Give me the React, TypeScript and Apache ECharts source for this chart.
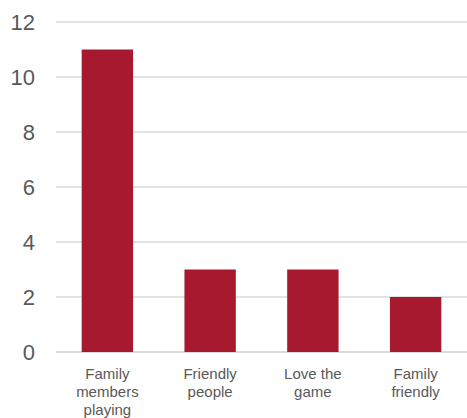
import React, { useEffect, useRef } from "react";
import * as echarts from "echarts";

const categories = ["Family\nmembers\nplaying", "Friendly\npeople", "Love the\ngame", "Family\nfriendly"];
const values = [11, 3, 3, 2];
const yTicks = { min: 0, max: 12, interval: 2 };

export default function App() {
  const ref = useRef<HTMLDivElement>(null);
  useEffect(() => {
    document.body.style.margin = "0";
    const chart = echarts.init(ref.current!, null, { renderer: "svg" });
    chart.setOption({
      animation: false,
      grid: { left: 56, right: 0, top: 22, bottom: 62, containLabel: false },
      xAxis: {
        type: "category",
        data: categories,
        axisLine: { show: true, lineStyle: { color: "#d9d9d9", width: 1.5 } },
        axisTick: { show: false },
        axisLabel: {
          color: "#595959",
          fontSize: 15,
          fontFamily: "Liberation Sans, Arial, sans-serif",
          lineHeight: 18,
          margin: 12,
          interval: 0,
        },
      },
      yAxis: {
        type: "value",
        min: yTicks.min,
        max: yTicks.max,
        interval: yTicks.interval,
        axisLine: { show: false },
        axisTick: { show: false },
        splitLine: { lineStyle: { color: "#d9d9d9", width: 1.5 } },
        axisLabel: {
          color: "#595959",
          fontSize: 22,
          fontFamily: "Liberation Sans, Arial, sans-serif",
          margin: 21,
        },
      },
      series: [
        {
          type: "bar",
          data: values,
          barWidth: "50%",
          itemStyle: { color: "#A6192E" },
        },
      ],
    });
    return () => chart.dispose();
  }, []);
  return <div ref={ref} style={{ width: 467, height: 418 }} />;
}
